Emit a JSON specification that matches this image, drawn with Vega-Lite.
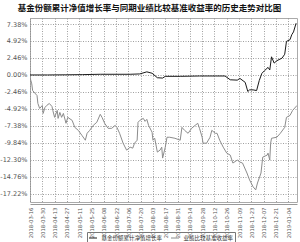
{
  "$schema": "https://vega.github.io/schema/vega-lite/v6.json",
  "width": 267,
  "height": 184,
  "autosize": {"type": "none"},
  "padding": {"left": 30, "top": 18, "right": 3, "bottom": 40},
  "background": "white",
  "title": {
    "text": "基金份额累计净值增长率与同期业绩比较基准收益率的历史走势对比图",
    "font": "Noto Sans CJK SC",
    "fontSize": 8.5,
    "fontWeight": "bold",
    "color": "#111",
    "anchor": "middle",
    "dx": -14,
    "offset": 6
  },
  "config": {
    "view": {"stroke": "#aaa", "strokeWidth": 1},
    "font": "Noto Sans CJK SC"
  },
  "data": {
    "values": [
      {"date": "2018-03-16", "series": "基金份额累计净值增长率", "value": 0},
      {"date": "2018-04-05", "series": "基金份额累计净值增长率", "value": 0},
      {"date": "2018-04-25", "series": "基金份额累计净值增长率", "value": 0.02},
      {"date": "2018-05-15", "series": "基金份额累计净值增长率", "value": 0.05},
      {"date": "2018-06-04", "series": "基金份额累计净值增长率", "value": 0.1},
      {"date": "2018-07-08", "series": "基金份额累计净值增长率", "value": 0.1},
      {"date": "2018-07-19", "series": "基金份额累计净值增长率", "value": 0.15},
      {"date": "2018-07-27", "series": "基金份额累计净值增长率", "value": 0.45},
      {"date": "2018-08-02", "series": "基金份额累计净值增长率", "value": 0.25},
      {"date": "2018-08-08", "series": "基金份额累计净值增长率", "value": -0.4},
      {"date": "2018-08-14", "series": "基金份额累计净值增长率", "value": -0.45},
      {"date": "2018-08-17", "series": "基金份额累计净值增长率", "value": -0.2},
      {"date": "2018-09-03", "series": "基金份额累计净值增长率", "value": -0.2},
      {"date": "2018-09-25", "series": "基金份额累计净值增长率", "value": -0.15},
      {"date": "2018-10-13", "series": "基金份额累计净值增长率", "value": -0.15},
      {"date": "2018-10-24", "series": "基金份额累计净值增长率", "value": -0.15},
      {"date": "2018-10-30", "series": "基金份额累计净值增长率", "value": -0.7},
      {"date": "2018-11-07", "series": "基金份额累计净值增长率", "value": -0.75},
      {"date": "2018-11-10", "series": "基金份额累计净值增长率", "value": -0.5},
      {"date": "2018-11-16", "series": "基金份额累计净值增长率", "value": -1.07},
      {"date": "2018-11-19", "series": "基金份额累计净值增长率", "value": -2.4},
      {"date": "2018-11-21", "series": "基金份额累计净值增长率", "value": -2.16},
      {"date": "2018-11-25", "series": "基金份额累计净值增长率", "value": -2.16},
      {"date": "2018-11-29", "series": "基金份额累计净值增长率", "value": -2.26},
      {"date": "2018-12-02", "series": "基金份额累计净值增长率", "value": -0.82},
      {"date": "2018-12-05", "series": "基金份额累计净值增长率", "value": 0.23},
      {"date": "2018-12-08", "series": "基金份额累计净值增长率", "value": 0.62},
      {"date": "2018-12-12", "series": "基金份额累计净值增长率", "value": 1.1},
      {"date": "2018-12-14", "series": "基金份额累计净值增长率", "value": 0.72},
      {"date": "2018-12-16", "series": "基金份额累计净值增长率", "value": 2.63},
      {"date": "2018-12-19", "series": "基金份额累计净值增长率", "value": 1.72},
      {"date": "2018-12-22", "series": "基金份额累计净值增长率", "value": 2.06},
      {"date": "2018-12-28", "series": "基金份额累计净值增长率", "value": 2.44},
      {"date": "2018-12-31", "series": "基金份额累计净值增长率", "value": 3.0},
      {"date": "2019-01-02", "series": "基金份额累计净值增长率", "value": 4.86},
      {"date": "2019-01-06", "series": "基金份额累计净值增长率", "value": 5.1},
      {"date": "2019-01-08", "series": "基金份额累计净值增长率", "value": 5.82},
      {"date": "2019-01-10", "series": "基金份额累计净值增长率", "value": 6.23},
      {"date": "2019-01-13", "series": "基金份额累计净值增长率", "value": 7.5},

      {"date": "2018-03-16", "series": "业绩比较基准收益率", "value": -0.35},
      {"date": "2018-03-18", "series": "业绩比较基准收益率", "value": -1.29},
      {"date": "2018-03-19", "series": "业绩比较基准收益率", "value": -2.26},
      {"date": "2018-03-24", "series": "业绩比较基准收益率", "value": -2.98},
      {"date": "2018-03-25", "series": "业绩比较基准收益率", "value": -4.13},
      {"date": "2018-03-27", "series": "业绩比较基准收益率", "value": -4.85},
      {"date": "2018-03-30", "series": "业绩比较基准收益率", "value": -4.42},
      {"date": "2018-03-31", "series": "业绩比较基准收益率", "value": -5.57},
      {"date": "2018-04-02", "series": "业绩比较基准收益率", "value": -4.71},
      {"date": "2018-04-04", "series": "业绩比较基准收益率", "value": -4.42},
      {"date": "2018-04-07", "series": "业绩比较基准收益率", "value": -4.13},
      {"date": "2018-04-10", "series": "业绩比较基准收益率", "value": -4.56},
      {"date": "2018-04-11", "series": "业绩比较基准收益率", "value": -5.14},
      {"date": "2018-04-13", "series": "业绩比较基准收益率", "value": -6.14},
      {"date": "2018-04-16", "series": "业绩比较基准收益率", "value": -5.14},
      {"date": "2018-04-17", "series": "业绩比较基准收益率", "value": -6.29},
      {"date": "2018-04-19", "series": "业绩比较基准收益率", "value": -5.43},
      {"date": "2018-04-21", "series": "业绩比较基准收益率", "value": -6.14},
      {"date": "2018-04-23", "series": "业绩比较基准收益率", "value": -5.57},
      {"date": "2018-04-26", "series": "业绩比较基准收益率", "value": -7.0},
      {"date": "2018-04-28", "series": "业绩比较基准收益率", "value": -6.14},
      {"date": "2018-05-03", "series": "业绩比较基准收益率", "value": -6.58},
      {"date": "2018-05-06", "series": "业绩比较基准收益率", "value": -7.59},
      {"date": "2018-05-10", "series": "业绩比较基准收益率", "value": -8.02},
      {"date": "2018-05-14", "series": "业绩比较基准收益率", "value": -8.73},
      {"date": "2018-05-18", "series": "业绩比较基准收益率", "value": -9.45},
      {"date": "2018-05-20", "series": "业绩比较基准收益率", "value": -8.45},
      {"date": "2018-05-23", "series": "业绩比较基准收益率", "value": -8.02},
      {"date": "2018-05-27", "series": "业绩比较基准收益率", "value": -7.3},
      {"date": "2018-05-31", "series": "业绩比较基准收益率", "value": -6.86},
      {"date": "2018-06-04", "series": "业绩比较基准收益率", "value": -5.7},
      {"date": "2018-06-06", "series": "业绩比较基准收益率", "value": -6.14},
      {"date": "2018-06-09", "series": "业绩比较基准收益率", "value": -7.0},
      {"date": "2018-06-13", "series": "业绩比较基准收益率", "value": -7.73},
      {"date": "2018-06-17", "series": "业绩比较基准收益率", "value": -7.73},
      {"date": "2018-06-21", "series": "业绩比较基准收益率", "value": -7.3},
      {"date": "2018-06-23", "series": "业绩比较基准收益率", "value": -7.59},
      {"date": "2018-06-26", "series": "业绩比较基准收益率", "value": -8.45},
      {"date": "2018-06-30", "series": "业绩比较基准收益率", "value": -9.88},
      {"date": "2018-07-04", "series": "业绩比较基准收益率", "value": -10.89},
      {"date": "2018-07-08", "series": "业绩比较基准收益率", "value": -10.46},
      {"date": "2018-07-11", "series": "业绩比较基准收益率", "value": -10.6},
      {"date": "2018-07-13", "series": "业绩比较基准收益率", "value": -9.88},
      {"date": "2018-07-16", "series": "业绩比较基准收益率", "value": -9.45},
      {"date": "2018-07-17", "series": "业绩比较基准收益率", "value": -6.86},
      {"date": "2018-07-19", "series": "业绩比较基准收益率", "value": -6.58},
      {"date": "2018-07-23", "series": "业绩比较基准收益率", "value": -6.29},
      {"date": "2018-07-25", "series": "业绩比较基准收益率", "value": -6.72},
      {"date": "2018-07-27", "series": "业绩比较基准收益率", "value": -6.43},
      {"date": "2018-07-29", "series": "业绩比较基准收益率", "value": -7.3},
      {"date": "2018-08-02", "series": "业绩比较基准收益率", "value": -8.3},
      {"date": "2018-08-03", "series": "业绩比较基准收益率", "value": -9.45},
      {"date": "2018-08-05", "series": "业绩比较基准收益率", "value": -9.17},
      {"date": "2018-08-08", "series": "业绩比较基准收益率", "value": -11.17},
      {"date": "2018-08-11", "series": "业绩比较基准收益率", "value": -10.89},
      {"date": "2018-08-13", "series": "业绩比较基准收益率", "value": -10.46},
      {"date": "2018-08-14", "series": "业绩比较基准收益率", "value": -12.04},
      {"date": "2018-08-17", "series": "业绩比较基准收益率", "value": -10.46},
      {"date": "2018-08-19", "series": "业绩比较基准收益率", "value": -9.02},
      {"date": "2018-08-22", "series": "业绩比较基准收益率", "value": -9.02},
      {"date": "2018-08-28", "series": "业绩比较基准收益率", "value": -9.17},
      {"date": "2018-09-03", "series": "业绩比较基准收益率", "value": -9.45},
      {"date": "2018-09-05", "series": "业绩比较基准收益率", "value": -7.59},
      {"date": "2018-09-08", "series": "业绩比较基准收益率", "value": -8.02},
      {"date": "2018-09-12", "series": "业绩比较基准收益率", "value": -8.45},
      {"date": "2018-09-16", "series": "业绩比较基准收益率", "value": -7.73},
      {"date": "2018-09-20", "series": "业绩比较基准收益率", "value": -7.3},
      {"date": "2018-09-23", "series": "业绩比较基准收益率", "value": -7.0},
      {"date": "2018-09-25", "series": "业绩比较基准收益率", "value": -7.73},
      {"date": "2018-09-28", "series": "业绩比较基准收益率", "value": -9.02},
      {"date": "2018-09-29", "series": "业绩比较基准收益率", "value": -9.88},
      {"date": "2018-10-03", "series": "业绩比较基准收益率", "value": -9.88},
      {"date": "2018-10-07", "series": "业绩比较基准收益率", "value": -9.02},
      {"date": "2018-10-09", "series": "业绩比较基准收益率", "value": -8.02},
      {"date": "2018-10-13", "series": "业绩比较基准收益率", "value": -8.45},
      {"date": "2018-10-15", "series": "业绩比较基准收益率", "value": -8.45},
      {"date": "2018-10-18", "series": "业绩比较基准收益率", "value": -9.45},
      {"date": "2018-10-22", "series": "业绩比较基准收益率", "value": -10.46},
      {"date": "2018-10-26", "series": "业绩比较基准收益率", "value": -11.32},
      {"date": "2018-10-30", "series": "业绩比较基准收益率", "value": -11.61},
      {"date": "2018-11-02", "series": "业绩比较基准收益率", "value": -12.76},
      {"date": "2018-11-07", "series": "业绩比较基准收益率", "value": -12.33},
      {"date": "2018-11-10", "series": "业绩比较基准收益率", "value": -12.62},
      {"date": "2018-11-13", "series": "业绩比较基准收益率", "value": -12.76},
      {"date": "2018-11-18", "series": "业绩比较基准收益率", "value": -14.2},
      {"date": "2018-11-21", "series": "业绩比较基准收益率", "value": -15.2},
      {"date": "2018-11-25", "series": "业绩比较基准收益率", "value": -16.2},
      {"date": "2018-11-28", "series": "业绩比较基准收益率", "value": -16.65},
      {"date": "2018-11-30", "series": "业绩比较基准收益率", "value": -15.65},
      {"date": "2018-12-04", "series": "业绩比较基准收益率", "value": -14.2},
      {"date": "2018-12-05", "series": "业绩比较基准收益率", "value": -13.05},
      {"date": "2018-12-06", "series": "业绩比较基准收益率", "value": -11.9},
      {"date": "2018-12-11", "series": "业绩比较基准收益率", "value": -11.61},
      {"date": "2018-12-12", "series": "业绩比较基准收益率", "value": -11.32},
      {"date": "2018-12-14", "series": "业绩比较基准收益率", "value": -12.33},
      {"date": "2018-12-15", "series": "业绩比较基准收益率", "value": -9.88},
      {"date": "2018-12-16", "series": "业绩比较基准收益率", "value": -9.17},
      {"date": "2018-12-22", "series": "业绩比较基准收益率", "value": -9.02},
      {"date": "2018-12-26", "series": "业绩比较基准收益率", "value": -8.45},
      {"date": "2018-12-31", "series": "业绩比较基准收益率", "value": -7.59},
      {"date": "2019-01-02", "series": "业绩比较基准收益率", "value": -6.14},
      {"date": "2019-01-06", "series": "业绩比较基准收益率", "value": -5.86},
      {"date": "2019-01-09", "series": "业绩比较基准收益率", "value": -5.14},
      {"date": "2019-01-14", "series": "业绩比较基准收益率", "value": -4.42}
    ]
  },
  "mark": {"type": "line", "strokeWidth": 1, "clip": true},
  "encoding": {
    "x": {
      "field": "date",
      "type": "temporal",
      "title": null,
      "scale": {
        "type": "utc",
        "domain": [
          {"year": 2018, "month": 3, "date": 16, "utc": true},
          {"year": 2019, "month": 1, "date": 14, "utc": true}
        ]
      },
      "axis": {
        "values": [
          {"year": 2018, "month": 3, "date": 16, "utc": true},
          {"year": 2018, "month": 3, "date": 30, "utc": true},
          {"year": 2018, "month": 4, "date": 13, "utc": true},
          {"year": 2018, "month": 4, "date": 27, "utc": true},
          {"year": 2018, "month": 5, "date": 11, "utc": true},
          {"year": 2018, "month": 5, "date": 25, "utc": true},
          {"year": 2018, "month": 6, "date": 8, "utc": true},
          {"year": 2018, "month": 6, "date": 22, "utc": true},
          {"year": 2018, "month": 7, "date": 6, "utc": true},
          {"year": 2018, "month": 7, "date": 20, "utc": true},
          {"year": 2018, "month": 8, "date": 3, "utc": true},
          {"year": 2018, "month": 8, "date": 17, "utc": true},
          {"year": 2018, "month": 8, "date": 31, "utc": true},
          {"year": 2018, "month": 9, "date": 14, "utc": true},
          {"year": 2018, "month": 9, "date": 28, "utc": true},
          {"year": 2018, "month": 10, "date": 12, "utc": true},
          {"year": 2018, "month": 10, "date": 26, "utc": true},
          {"year": 2018, "month": 11, "date": 9, "utc": true},
          {"year": 2018, "month": 11, "date": 23, "utc": true},
          {"year": 2018, "month": 12, "date": 7, "utc": true},
          {"year": 2018, "month": 12, "date": 21, "utc": true},
          {"year": 2019, "month": 1, "date": 4, "utc": true}
        ],
        "labelExpr": "utcFormat(datum.value, '%Y-%m-%d')",
        "labelAngle": 270,
        "labelFontSize": 5.3,
        "labelColor": "#555",
        "labelFont": "DejaVu Sans",
        "labelPadding": 3,
        "labelOverlap": false,
        "labelFlush": false,
        "ticks": false,
        "domain": true,
        "domainColor": "#999",
        "domainWidth": 1,
        "offset": 2,
        "grid": true,
        "gridColor": "#888",
        "gridDash": [1, 1.5],
        "gridWidth": 0.8
      }
    },
    "y": {
      "field": "value",
      "type": "quantitative",
      "title": null,
      "scale": {"domain": [-18.4, 8.25], "nice": false, "zero": false},
      "axis": {
        "values": [7.38, 4.92, 2.46, 0, -2.46, -4.92, -7.38, -9.84, -12.3, -14.76, -17.22],
        "labelExpr": "(datum.value < 0 ? '-' : '') + format(abs(datum.value), '.2f') + '%'",
        "labelFontSize": 6.5,
        "labelColor": "#555",
        "labelFont": "DejaVu Sans",
        "labelPadding": 3,
        "ticks": false,
        "domain": false,
        "grid": true,
        "gridColor": "#888",
        "gridDash": [1, 1.5],
        "gridWidth": 0.8
      }
    },
    "color": {
      "field": "series",
      "type": "nominal",
      "scale": {
        "domain": ["基金份额累计净值增长率", "业绩比较基准收益率"],
        "range": ["#1a1a1a", "#8c8c8c"]
      },
      "legend": {
        "title": null,
        "orient": "none",
        "legendX": 57,
        "legendY": 214,
        "direction": "horizontal",
        "symbolType": "stroke",
        "symbolSize": 64,
        "symbolStrokeWidth": 1,
        "labelFontSize": 5.5,
        "labelColor": "#333",
        "labelFont": "Noto Sans CJK SC",
        "columnPadding": 6,
        "padding": 1.5,
        "strokeColor": "#777"
      }
    }
  }
}
